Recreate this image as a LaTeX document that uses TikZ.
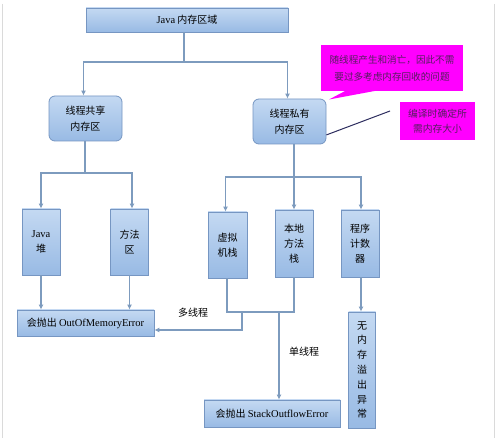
\documentclass[tikz,border=0pt]{standalone}
\usepackage{fontspec}
\setmainfont{Liberation Serif}
\newfontfamily\cjk{Noto Sans CJK SC}
\usetikzlibrary{arrows.meta}
\definecolor{boxline}{RGB}{118,150,194}
\definecolor{boxtop}{RGB}{196,217,242}
\definecolor{boxbot}{RGB}{152,186,228}
\definecolor{wirecol}{RGB}{125,155,190}
\definecolor{notefill}{RGB}{255,0,255}
\definecolor{notetext}{RGB}{85,30,95}
\definecolor{framecol}{RGB}{218,218,218}
\definecolor{pointcol}{RGB}{45,45,95}

\begin{document}
\begin{tikzpicture}[x=1pt,y=-1pt,
  every node/.style={font=\cjk\fontsize{10}{15}\selectfont,inner sep=0pt},
  area/.style={draw=boxline,line width=0.8pt,top color=boxtop,bottom color=boxbot,align=center},
  roundarea/.style={area,rounded corners=6pt,font=\cjk\fontsize{10}{16}\selectfont},
  note/.style={fill=notefill,text=notetext,align=center},
  wire/.style={draw=wirecol,line width=1.3pt},
  >={Latex[length=5pt,width=5pt]}]
\useasboundingbox (0,0) rectangle (499,438);
\fill[white] (0,0) rectangle (499,438);
\draw[framecol,line width=1pt] (2,4) -- (2,438);
\draw[framecol,line width=1pt] (494,4) -- (494,438);
\node[area,minimum width=202,minimum height=24,font=\cjk\fontsize{10}{12}\selectfont] (top) at (187,20) {{\rmfamily\fontsize{10.5}{12}\selectfont Java} 内存区域};
\node[roundarea,minimum width=73,minimum height=45] (share) at (85.5,118.5) {线程共享\\内存区};
\node[roundarea,minimum width=73,minimum height=45] (priv) at (289.5,121.5) {线程私有\\内存区};
\node[area,minimum width=38,minimum height=66] (heap) at (41,242) {{\rmfamily\fontsize{10.5}{12}\selectfont Java}\\堆};
\node[area,minimum width=38,minimum height=66] (method) at (129.5,242) {方法\\区};
\node[area,minimum width=39,minimum height=66] (vmstack) at (227.5,245) {虚拟\\机栈};
\node[area,minimum width=38,minimum height=67] (native) at (294,243.5) {本地\\方法\\栈};
\node[area,minimum width=38,minimum height=67] (pc) at (360,243.5) {程序\\计数\\器};
\node[area,minimum width=137,minimum height=26] (oom) at (85.5,323) {会抛出 {\rmfamily\fontsize{10.5}{12}\selectfont OutOfMemoryError}};
\node[area,minimum width=136,minimum height=27] (soe) at (272,413.5) {会抛出 {\rmfamily\fontsize{10.5}{12}\selectfont StackOutflowError}};
\node[area,minimum width=27,minimum height=116,font=\cjk\fontsize{10}{14.8}\selectfont] (noex) at (362,370) {无\\内\\存\\溢\\出\\异\\常};
\node[note,minimum width=142,minimum height=46,font=\cjk\fontsize{9.6}{17}\selectfont] (note1) at (392,68) {随线程产生和消亡，因此不需\\要过多考虑内存回收的问题};
\fill[notefill] (347,90) -- (329,99.5) -- (380,90) -- cycle;
\node[note,minimum width=75,minimum height=38,font=\cjk\fontsize{9.8}{15}\selectfont] (note2) at (437.5,121) {编译时确定所\\需内存大小};
\coordinate (tip2) at (390,111);
\draw[pointcol,line width=1pt] (priv.340) -- (tip2);
\coordinate (s1) at (184,62);
\draw[wire] (top.south -| s1) -- (s1);
\draw[wire,->] (s1) -| (share.north -| 83.5,0);
\draw[wire,->] (s1) -| (priv.north -| 287.5,0);
\coordinate (s2) at (85,173);
\draw[wire] (share.south -| s2) -- (s2);
\draw[wire,->] (s2) -| (heap.north);
\draw[wire,->] (s2) -| (method.north -| 132,0);
\coordinate (s3) at (294,177);
\draw[wire,->] (priv.south -| s3) -- (native.north);
\draw[wire,->] (s3) -| (vmstack.north -| 225.5,0);
\draw[wire,->] (s3) -| (pc.north -| 361,0);
\draw[wire,->] (heap.south) -- (heap.south |- oom.north);
\draw[wire,->] (method.south) -- (method.south |- oom.north);
\coordinate (j1) at (227,312);
\coordinate (j2) at (294,312);
\draw[wire] (vmstack.south -| j1) -- (j1) -- (j2) -- (native.south -| j2);
\coordinate (m1) at (242,312);
\coordinate (m2) at (242,330);
\draw[wire,->] (m1) -- (m2) -- (m2 -| oom.east);
\node (lmulti) at (193,313) {多线程};
\coordinate (d1) at (279,312);
\draw[wire,->] (d1) -- (d1 |- soe.north);
\node (lsingle) at (304,352) {单线程};
\draw[wire,->] (pc.south -| 361,0) -- (noex.north -| 361,0);
\end{tikzpicture}
\end{document}
